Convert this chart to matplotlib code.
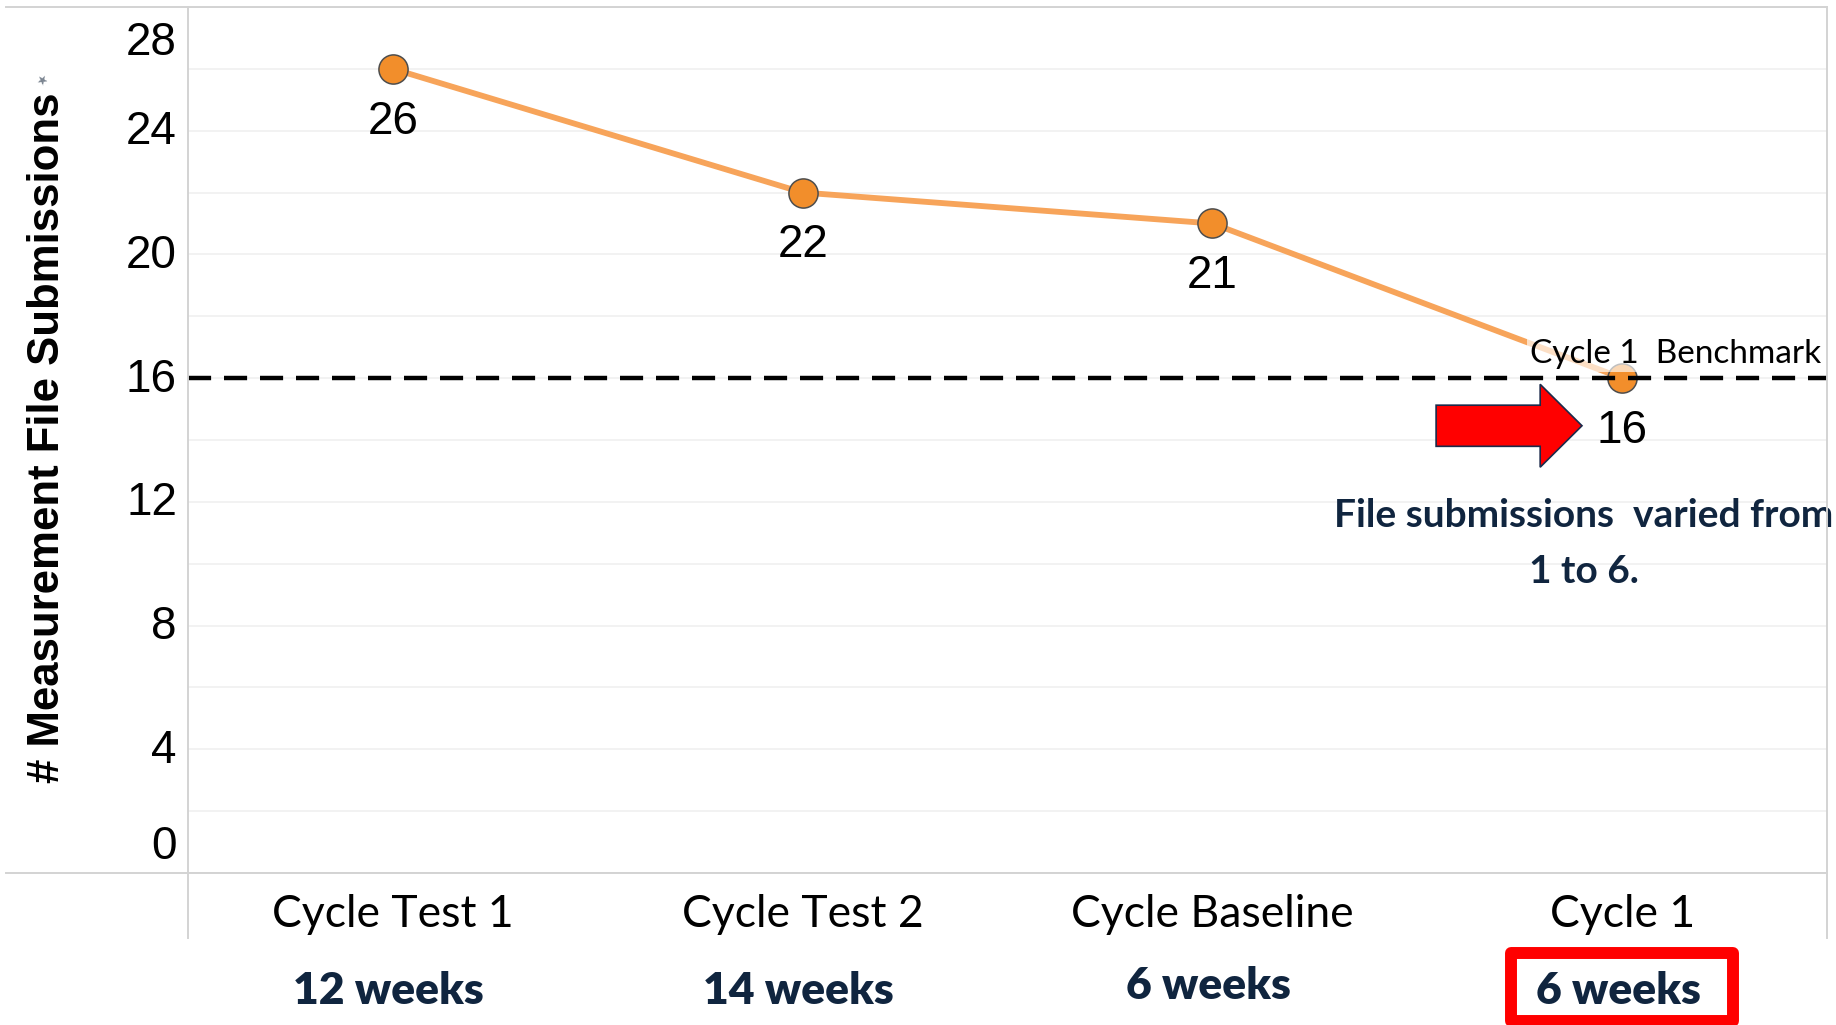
import matplotlib
matplotlib.use('Agg')
import matplotlib.pyplot as plt
from matplotlib.patches import FancyArrow, Rectangle
from matplotlib.lines import Line2D
from matplotlib.ticker import MultipleLocator
from matplotlib.transforms import blended_transform_factory

# ── Data ──────────────────────────────────────────────────
cycles = ['Cycle Test 1', 'Cycle Test 2', 'Cycle Baseline', 'Cycle 1']
submissions = [26, 22, 21, 16]
durations = ['12 weeks', '14 weeks', '6 weeks', '6 weeks']
benchmark = 16
y_ticks = [0, 4, 8, 12, 16, 20, 24, 28]

NAVY = '#10253F'
BORDER = '#d3d3d3'

# ── Figure / axes ─────────────────────────────────────────
fig = plt.figure(figsize=(18.36, 10.25), dpi=100)
ax = fig.add_axes([0.1024, 0.1483, 0.8927, 0.8449])
x = list(range(len(cycles)))

ax.plot(x, submissions, color='#F7A45A', lw=4.2, solid_capstyle='round', zorder=2)
ax.plot(x, submissions, 'o', ms=21, mfc='#F28E2B', mec='#4d4d4d', mew=1.1, zorder=3)

for xi, v in zip(x, submissions):
    ax.annotate(str(v), (xi, v), xytext=(0, -38), textcoords='offset points',
                ha='center', va='center', fontsize=33, family='Liberation Sans',
                color='black', zorder=6)

# benchmark line
ax.axhline(benchmark, color='black', lw=3.2, dashes=(5.2, 2.9), zorder=5)
ax.text(3.485, benchmark + 0.78, 'Cycle 1  Benchmark', ha='right', va='center',
        fontsize=24, family='Lato', color='black', zorder=4,
        bbox=dict(facecolor='white', alpha=0.65, edgecolor='none', pad=2))

# red arrow pointing at the last value
ax.add_patch(FancyArrow(2.546, 14.46, 0.356, 0, width=1.33, head_width=2.68,
                        head_length=0.102, length_includes_head=True,
                        fc='#ff0000', ec='#1b2a4a', lw=1.2, zorder=6))
ax.text(2.907, 10.65, 'File submissions  varied from\n1 to 6.', ha='center',
        va='center', multialignment='center', linespacing=1.75, fontsize=28,
        family='Lato', fontweight='bold', color=NAVY, clip_on=False, zorder=6)

# ── Axes styling ──────────────────────────────────────────
ax.set_xlim(-0.5, 3.5)
ax.set_ylim(0, 28)
ax.set_yticks(y_ticks)
ax.set_yticklabels([])
ax.yaxis.set_minor_locator(MultipleLocator(2))
ax.grid(which='both', axis='y', color='#efefef', lw=1.1, zorder=0)
ax.tick_params(which='both', length=0)
for s in ax.spines.values():
    s.set_visible(False)

ax.set_xticks(x)
ax.set_xticklabels(cycles, fontsize=32, family='Lato')
ax.tick_params(axis='x', pad=15)

# y tick labels (end labels pulled inside, as in the source)
ytr = blended_transform_factory(ax.transAxes, ax.transData)
for v in y_ticks:
    dy = -1
    if v == y_ticks[-1]:
        dy = -26
    elif v == y_ticks[0]:
        dy = 19
    ax.annotate(str(v), (0, v), xycoords=ytr, xytext=(-8, dy),
                textcoords='offset points', ha='right', va='center',
                fontsize=33, family='Liberation Sans', color='black',
                annotation_clip=False)

fig.text(0.0256, 0.5727, '# Measurement File Submissions', rotation=90,
         ha='center', va='center', fontsize=31.5, family='Liberation Sans',
         fontweight='bold', color='black')
# small pin glyph next to the axis title
fig.text(0.0225, 0.921, '\u2605', rotation=-30, ha='center', va='center',
         fontsize=9, color='#7b8591')

# ── Frame lines ───────────────────────────────────────────
for xs, ys in [([0.0033, 0.9951], [0.9932, 0.9932]),
               ([0.0033, 0.9951], [0.1483, 0.1483]),
               ([0.1024, 0.1024], [0.0849, 0.9932]),
               ([0.9951, 0.9951], [0.0849, 0.9932])]:
    fig.add_artist(Line2D(xs, ys, color=BORDER, lw=1.4))

# ── Duration labels under the categories ──────────────────
btr = blended_transform_factory(ax.transData, fig.transFigure)
for xi, d in zip(x, durations):
    yy = 0.038 if xi == 2 else 0.0332
    fig.text(xi - 0.01, yy, d, transform=btr, ha='center', va='center',
             fontsize=32, family='Lato', fontweight='heavy', color=NAVY)

fig.add_artist(Rectangle((3 - 0.2707, 0.0039), 0.5415, 0.0663, transform=btr,
                         fill=False, ec='#ff0000', lw=8.6, joinstyle='round'))

fig.savefig('out.png', dpi=100)
